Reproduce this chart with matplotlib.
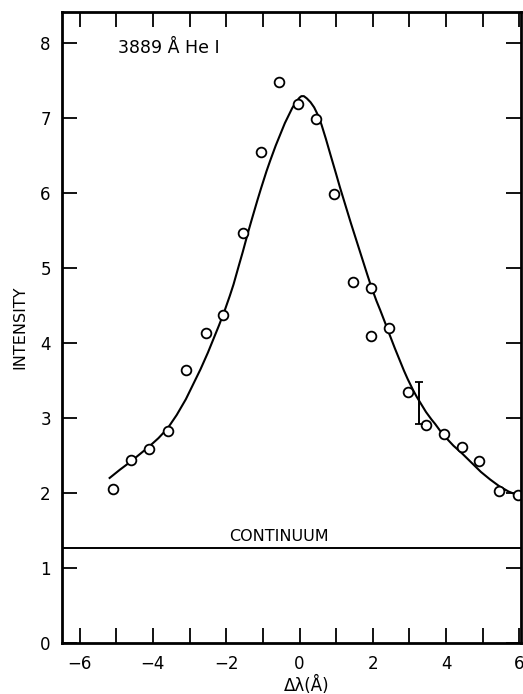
import matplotlib
matplotlib.use("Agg")
import matplotlib.pyplot as plt
from matplotlib.ticker import MultipleLocator

plt.rcParams['font.family'] = ['DejaVu Sans']

# measured points (delta lambda in A, intensity)
obs_x = [-5.10, -4.61, -4.10, -3.60, -3.11, -2.56, -2.10, -1.55, -1.06, -0.55, -0.03,
         0.46, 0.95, 1.47, 1.94, 1.94, 2.43, 2.95, 3.44, 3.95, 4.42, 4.91, 5.43, 5.95]
obs_y = [2.05, 2.44, 2.58, 2.83, 3.64, 4.13, 4.37, 5.47, 6.55, 7.48, 7.18,
         6.98, 5.98, 4.81, 4.73, 4.09, 4.20, 3.35, 2.91, 2.79, 2.61, 2.42, 2.03, 1.97]

# fitted profile
fit_x = [-5.18, -4.9, -4.6, -4.35, -4.1, -3.85, -3.6, -3.35, -3.1, -2.9, -2.7, -2.5,
         -2.35, -2.2, -2.05, -1.9, -1.8, -1.65, -1.55, -1.4, -1.3, -1.15, -1.05, -0.9,
         -0.8, -0.65, -0.55, -0.4, -0.3, -0.2, -0.1, 0.0, 0.05, 0.12, 0.2, 0.3, 0.4,
         0.5, 0.6, 0.72, 0.85, 1.0, 1.1, 1.25, 1.4, 1.55, 1.7, 1.85, 1.95, 2.1, 2.2,
         2.35, 2.45, 2.6, 2.7, 2.85, 2.95, 3.1, 3.2, 3.35, 3.45, 3.6, 3.7, 3.85, 3.95,
         4.2, 4.45, 4.7, 4.95, 5.2, 5.45, 5.7, 6.0]
fit_y = [2.20, 2.31, 2.42, 2.52, 2.62, 2.73, 2.86, 3.04, 3.25, 3.45, 3.65, 3.87,
         4.05, 4.23, 4.42, 4.63, 4.78, 5.04, 5.21, 5.48, 5.65, 5.90, 6.06, 6.29,
         6.43, 6.63, 6.75, 6.93, 7.03, 7.13, 7.21, 7.27, 7.29, 7.29, 7.26, 7.21, 7.14,
         7.04, 6.91, 6.72, 6.50, 6.25, 6.08, 5.84, 5.60, 5.37, 5.14, 4.91, 4.76, 4.56, 4.44,
         4.25, 4.12, 3.93, 3.81, 3.63, 3.52, 3.37, 3.28, 3.16, 3.08, 2.98, 2.92, 2.82, 2.76,
         2.63, 2.52, 2.40, 2.28, 2.18, 2.09, 2.02, 1.96]

# typical error bar
err_x = [3.25]
err_y = [3.20]
err_size = [0.28]

continuum = 1.26

fig = plt.figure(figsize=(5.23, 6.94), dpi=100)
ax = fig.add_axes([0.1185, 0.0735, 0.8775, 0.909])

ax.plot(fit_x, fit_y, color='black', lw=1.5, solid_joinstyle='round')
ax.plot(obs_x, obs_y, 'o', mfc='white', mec='black', ms=7, mew=1.3)
ax.errorbar(err_x, err_y, yerr=err_size, fmt='none', ecolor='black',
            elinewidth=1.4, capsize=3, capthick=1.3)
ax.axhline(continuum, color='black', lw=1.4)

ax.text(-0.57, 1.36, 'CONTINUUM', ha='center', va='baseline', fontsize=11.5)
ax.text(-4.94, 7.86, '3889 Å He I', ha='left', va='baseline', fontsize=12.5)

ax.set_xlim(-6.48, 6.04)
ax.set_ylim(0, 8.41)
ax.xaxis.set_major_locator(MultipleLocator(2))
ax.xaxis.set_minor_locator(MultipleLocator(1))
ax.yaxis.set_major_locator(MultipleLocator(1))
ax.yaxis.set_minor_locator(MultipleLocator(1))
ax.tick_params(which='both', direction='in', top=True, right=True,
               length=11, width=1.3, labelsize=12, pad=8)
ax.tick_params(axis='x', pad=9)

for s in ax.spines.values():
    s.set_linewidth(2)

ax.set_ylabel('INTENSITY', fontsize=11.5, labelpad=9)
fig.text(307 / 523, 1 - 685 / 694, 'Δλ(Å)', ha='center', va='center', fontsize=12)

fig.savefig('out.png', dpi=100)
